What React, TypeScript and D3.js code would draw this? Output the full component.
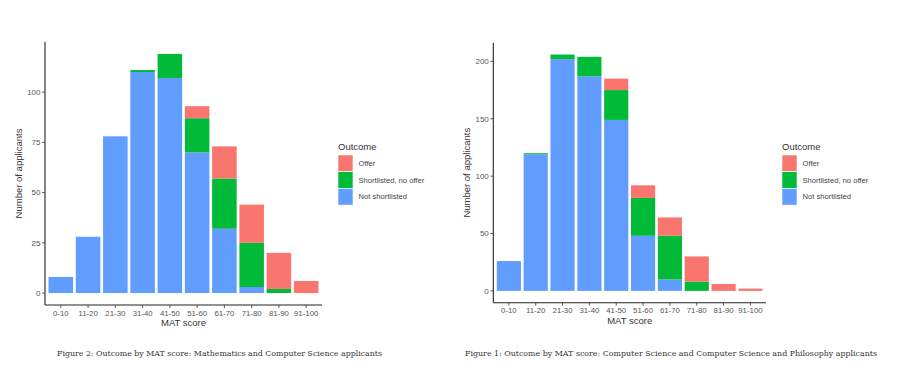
import React from "react";
import * as d3 from "d3";

const categories = ["0-10", "11-20", "21-30", "31-40", "41-50", "51-60", "61-70", "71-80", "81-90", "91-100"];
const outcomes = ["Offer", "Shortlisted, no offer", "Not shortlisted"];
const outcomeColors = ["#F8766D", "#00BA38", "#619CFF"];

// Figure 2: Mathematics and Computer Science
const mathNotShortlisted = [8, 28, 78, 110, 107, 70, 32, 3, 0, 0];
const mathShortlisted = [0, 0, 0, 1, 12, 17, 25, 22, 2, 0];
const mathOffer = [0, 0, 0, 0, 0, 6, 16, 19, 18, 6];
const mathTicks = [0, 25, 50, 75, 100];

// Figure 1: Computer Science and CS & Philosophy
const csNotShortlisted = [26, 119, 202, 187, 149, 48, 10, 0, 0, 0];
const csShortlisted = [0, 1, 4, 17, 26, 33, 38, 8, 0, 0];
const csOffer = [0, 0, 0, 0, 10, 11, 16, 22, 6, 2];
const csTicks = [0, 50, 100, 150, 200];

const caption2 = "Figure 2: Outcome by MAT score: Mathematics and Computer Science applicants";
const caption1 = "Figure 1: Outcome by MAT score: Computer Science and Computer Science and Philosophy applicants";

const SANS = "'Liberation Sans', Arial, sans-serif";

type PanelProps = {
  notS: number[];
  shortS: number[];
  offer: number[];
  ticks: number[];
  x0: number;
  x1: number;
  yTop: number;
  yBottom: number;
  legendX: number;
  yTitleX: number;
};

function Panel({ notS, shortS, offer, ticks, x0, x1, yTop, yBottom, legendX, yTitleX }: PanelProps) {
  const rows = categories.map((c, i) => ({
    cat: c,
    "Not shortlisted": notS[i],
    "Shortlisted, no offer": shortS[i],
    Offer: offer[i],
  }));
  const keys = ["Not shortlisted", "Shortlisted, no offer", "Offer"];
  const stacked = d3.stack<any>().keys(keys)(rows);
  const maxTotal = d3.max(rows, (r) => r["Not shortlisted"] + r["Shortlisted, no offer"] + r.Offer) as number;
  const x = d3.scaleBand<string>().domain(categories).range([x0, x1]).paddingInner(0.1).paddingOuter(0.13);
  const y = d3.scaleLinear().domain([-0.05 * maxTotal, 1.05 * maxTotal]).range([yBottom, yTop]);
  const color = d3.scaleOrdinal<string, string>().domain(outcomes).range(outcomeColors);
  const midX = (x0 + x1) / 2;
  const midY = (yTop + yBottom) / 2;

  return (
    <g>
      {stacked.map((layer) => (
        <g key={layer.key} fill={color(layer.key)}>
          {layer.map((d, i) => {
            const h = y(d[0]) - y(d[1]);
            if (h <= 0) return null;
            return <rect key={i} x={x(categories[i])} y={y(d[1])} width={x.bandwidth()} height={h} />;
          })}
        </g>
      ))}
      {/* axes */}
      <line x1={x0} x2={x0} y1={yTop} y2={yBottom} stroke="#222" strokeWidth={1.1} />
      <line x1={x0} x2={x1} y1={yBottom} y2={yBottom} stroke="#222" strokeWidth={1.1} />
      {ticks.map((t) => (
        <g key={t}>
          <line x1={x0 - 3} x2={x0} y1={y(t)} y2={y(t)} stroke="#333" strokeWidth={0.8} />
          <text x={x0 - 4.5} y={y(t)} dy="0.35em" textAnchor="end" fontSize={8} fill="#555" fontFamily={SANS}>
            {t}
          </text>
        </g>
      ))}
      {categories.map((c) => {
        const cx = (x(c) as number) + x.bandwidth() / 2;
        return (
          <g key={c}>
            <line x1={cx} x2={cx} y1={yBottom} y2={yBottom + 3} stroke="#333" strokeWidth={0.8} />
            <text x={cx} y={yBottom + 10.5} textAnchor="middle" fontSize={7.8} fill="#555" fontFamily={SANS}>
              {c}
            </text>
          </g>
        );
      })}
      <text x={midX} y={yBottom + 21} textAnchor="middle" fontSize={9.5} fill="#333" fontFamily={SANS}>
        MAT score
      </text>
      <text
        transform={`translate(${yTitleX},${midY}) rotate(-90)`}
        textAnchor="middle"
        fontSize={9.5}
        fill="#333"
        fontFamily={SANS}
      >
        Number of applicants
      </text>
      {/* legend */}
      <text x={legendX} y={149.5} fontSize={9.5} fill="#333" fontFamily={SANS}>
        Outcome
      </text>
      {outcomes.map((o, i) => (
        <g key={o}>
          <rect x={legendX} y={155 + i * 16.7} width={15} height={16.7} fill={color(o)} stroke="#fff" strokeWidth={0.6} />
          <text x={legendX + 20.5} y={155 + i * 16.7 + 8.35} dy="0.35em" fontSize={7.6} fill="#444" fontFamily={SANS}>
            {o}
          </text>
        </g>
      ))}
    </g>
  );
}

export default function App() {
  return (
    <svg width={900} height={383} style={{ position: "absolute", left: 0, top: 0, background: "#fff" }}>
      <rect width={900} height={383} fill="#fff" />
      <Panel
        notS={mathNotShortlisted}
        shortS={mathShortlisted}
        offer={mathOffer}
        ticks={mathTicks}
        x0={45}
        x1={322}
        yTop={42}
        yBottom={305}
        legendX={338}
        yTitleX={22}
      />
      <Panel
        notS={csNotShortlisted}
        shortS={csShortlisted}
        offer={csOffer}
        ticks={csTicks}
        x0={493.3}
        x1={766}
        yTop={42.7}
        yBottom={302.7}
        legendX={782}
        yTitleX={470}
      />
      <text x={57} y={356} fontSize={8} fill="#333" fontFamily="'DejaVu Serif', serif" textLength={325} lengthAdjust="spacingAndGlyphs">
        {caption2}
      </text>
      <text x={465} y={356} fontSize={8} fill="#333" fontFamily="'DejaVu Serif', serif" textLength={412} lengthAdjust="spacingAndGlyphs">
        {caption1}
      </text>
    </svg>
  );
}
